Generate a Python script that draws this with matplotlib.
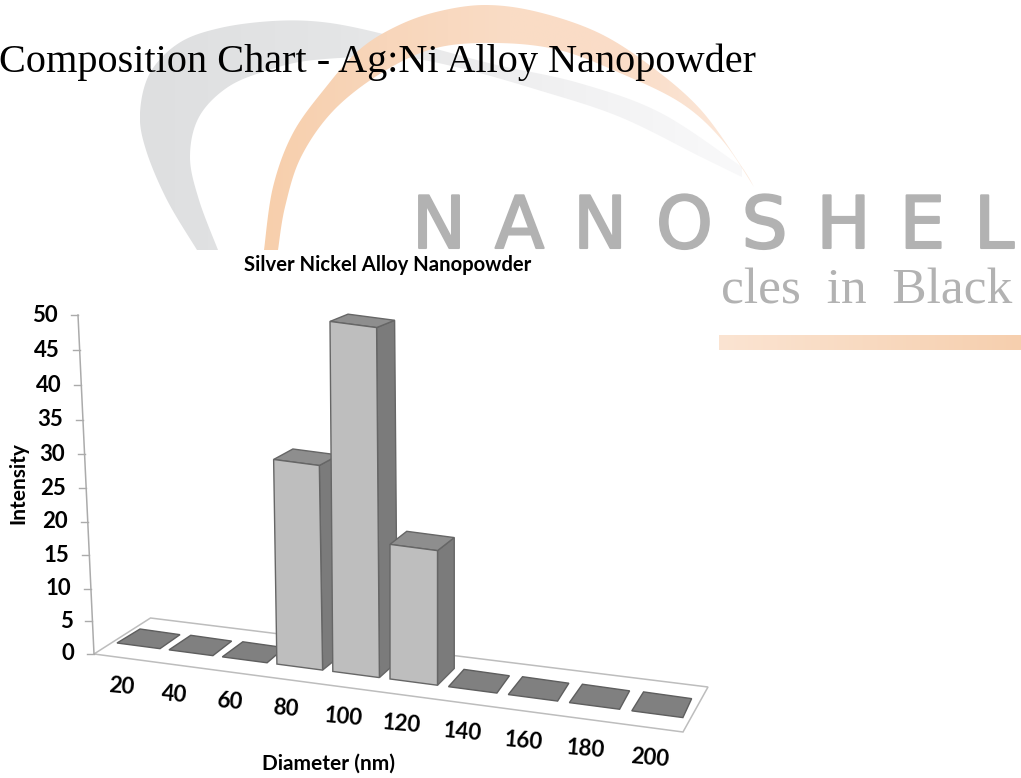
"""
Silver nickel alloy nanopowder: size distribution as a 3D-look bar chart
on top of the Nanoshel watermark. Drawn on one axes in image pixels.
"""
import numpy as np
import matplotlib
matplotlib.use("Agg")
import matplotlib.pyplot as plt
import matplotlib.patheffects as pe
from matplotlib.colors import LinearSegmentedColormap
from matplotlib.patches import Polygon

diameters = [20, 40, 60, 80, 100, 120, 140, 160, 180, 200]
intensity = [0, 0, 0, 30, 50, 20, 0, 0, 0, 0]
y_ticks = [0, 5, 10, 15, 20, 25, 30, 35, 40, 45, 50]

FRONT, SIDE, TOP, EDGE = "#BEBEBE", "#7B7B7B", "#8E8E8E", "#666666"
TILE, TILE_EDGE = "#808080", "#5E5E5E"
FLOOR_LINE, AXIS_LINE = "#BDBDBD", "#ABABAB"
WM_TEXT = "#B2B2B2"
SANS = "Lato"


# perspective of the fake 3D box, fitted to the picture
def base_point(i):
    x = 117 + 52 * i + 0.65 * i * (i - 1)
    return x, 643 + 0.1318 * (x - 117)


def bar_corners(i, value):
    x0, y0 = base_point(i)
    w = 43 + 0.9 * i
    slope = 0.1318
    h = value * (6.55 + 0.009 * value)
    lean = -(5 - i) * 0.008 * h
    dx = 23 - 1.25 * i
    dx_r = dx - 3 if value == 0 else dx
    dy = -(14 + 0.55 * i) * (1 - 0.011 * value)
    dy0 = -(14 + 0.55 * i)
    fl_b = (x0, y0)
    fr_b = (x0 + w, y0 + w * slope)
    fl_t = (x0 + lean, y0 - h)
    fr_t = (x0 + w + lean, y0 + w * slope - h)
    bl_t = (fl_t[0] + dx, fl_t[1] + dy)
    br_t = (fr_t[0] + dx_r, fr_t[1] + dy)
    br_b = (fr_b[0] + dx_r, fr_b[1] + dy0)
    return fl_b, fr_b, fl_t, fr_t, bl_t, br_t, br_b


def axis_point(value):
    y = 654 - value * (6.48 + 0.006 * value)
    return 94 - 16 * (654 - y) / 339, y


def smooth(points, n=14):
    # Catmull-Rom through the outline points
    p = np.array([points[0]] + list(points) + [points[-1]], dtype=float)
    out = []
    for k in range(1, len(p) - 2):
        for t in np.linspace(0, 1, n, endpoint=False):
            out.append(0.5 * (2 * p[k] + (p[k + 1] - p[k - 1]) * t
                              + (2 * p[k - 1] - 5 * p[k] + 4 * p[k + 1] - p[k + 2]) * t ** 2
                              + (3 * p[k] - p[k - 1] - 3 * p[k + 1] + p[k + 2]) * t ** 3))
    out.append(p[-1])
    return np.array(out)


def gradient_arc(ax, outer, inner, colors, z):
    shape = Polygon(np.vstack([smooth(outer), smooth(inner)]), closed=True, fc="none", ec="none")
    ax.add_patch(shape)
    xs = shape.get_xy()[:, 0]
    grad = np.linspace(0, 1, 256).reshape(1, -1)
    cmap = LinearSegmentedColormap.from_list("fade", colors)
    im = ax.imshow(grad, extent=[xs.min(), xs.max(), 250, 0], cmap=cmap, aspect="auto", zorder=z)
    im.set_clip_path(shape)


fig = plt.figure(figsize=(10.21, 7.78), dpi=100)
ax = fig.add_axes([0, 0, 1, 1])

# watermark arcs
grey_outer = [(197, 250), (167, 200), (146, 150), (140, 113), (150, 73), (179, 43), (220, 28),
              (273, 21), (322, 22), (375, 32), (440, 50), (497, 65), (579, 83), (661, 113), (742, 167)]
grey_inner = [(742, 177), (701, 157), (620, 117), (538, 90), (456, 67), (395, 57), (314, 60),
              (269, 70), (228, 87), (199, 117), (190, 157), (199, 200), (218, 250)]
gradient_arc(ax, grey_outer, grey_inner, ["#DEDFE0", "#E4E5E6", "#F0F0F1", "#F9F9FA"], 1)

org_outer = [(264, 250), (273, 187), (293, 133), (326, 87), (359, 50), (395, 27), (436, 12),
             (485, 5), (538, 12), (599, 33), (652, 67), (701, 110), (742, 167), (754, 187)]
org_inner = [(754, 187), (722, 140), (681, 103), (620, 73), (559, 50), (497, 43), (436, 48),
             (383, 72), (334, 110), (301, 157), (285, 207), (278, 250)]
gradient_arc(ax, org_outer, org_inner, ["#F7CFAC", "#F8D6BB", "#FADCC5", "#FADDC8", "#FCEADD"], 2)

band = np.linspace(0, 1, 256).reshape(1, -1)
cmap2 = LinearSegmentedColormap.from_list("band", ["#FBE4D2", "#F6CFAE"])
ax.imshow(band, extent=[719, 1021, 350, 335], cmap=cmap2, aspect="auto", zorder=2)
ax.set_xlim(0, 1021)
ax.set_ylim(778, 0)
ax.axis("off")

ax.text(412, 248, "\u2009\u2009".join("NANOSHEL"), family="DejaVu Sans", fontsize=52,
        color=WM_TEXT, ha="left", va="baseline", zorder=3,
        path_effects=[pe.withStroke(linewidth=1.5, foreground=WM_TEXT)])
ax.text(721, 303, "cles  in  Black", family="Liberation Serif", fontsize=37,
        color=WM_TEXT, ha="left", va="baseline", zorder=3)

ax.text(-1, 72, "Composition Chart - Ag:Ni Alloy Nanopowder", family="Liberation Serif",
        fontsize=29, color="black", ha="left", va="baseline", zorder=6)
ax.text(388, 265, "Silver Nickel Alloy Nanopowder", family=SANS, fontweight="bold",
        fontsize=14.6, color="black", ha="center", va="center", zorder=6)

# floor
fl0 = axis_point(0)
floor = [fl0, (150.5, 618), (708, 687), (683, 732)]
ax.add_patch(Polygon(floor, closed=True, fc="none", ec=FLOOR_LINE, lw=1.1, zorder=3))

# y axis
top = axis_point(max(y_ticks))
ax.plot([top[0], fl0[0]], [top[1], fl0[1]], color=AXIS_LINE, lw=1.1, zorder=3)
for v in y_ticks:
    x, y = axis_point(v)
    ax.plot([x - 7, x], [y, y], color=AXIS_LINE, lw=1.0, zorder=3)
    ax.text(x - 20, y, str(v), family=SANS, fontweight="bold", fontsize=16,
            ha="right", va="center", zorder=6)

# bars, left to right so each one covers the side of the previous one
for i, value in enumerate(intensity):
    fl_b, fr_b, fl_t, fr_t, bl_t, br_t, br_b = bar_corners(i, value)
    if value == 0:
        ax.add_patch(Polygon([fl_t, fr_t, br_t, bl_t], closed=True, fc=TILE, ec=TILE_EDGE,
                             lw=1.0, zorder=4))
        continue
    z = 4 + i * 0.01
    ax.add_patch(Polygon([fr_b, fr_t, br_t, br_b], closed=True, fc=SIDE, ec=EDGE, lw=1.0, zorder=z))
    ax.add_patch(Polygon([fl_t, fr_t, br_t, bl_t], closed=True, fc=TOP, ec=EDGE, lw=1.0, zorder=z))
    ax.add_patch(Polygon([fl_b, fr_b, fr_t, fl_t], closed=True, fc=FRONT, ec=EDGE, lw=1.0, zorder=z))

for i, d in enumerate(diameters):
    x0, y0 = base_point(i)
    ax.text(x0 + 4 + 1.55 * i, y0 + 44 + 0.33 * i, str(d), family=SANS, fontweight="bold",
            fontsize=16, rotation=-5, ha="center", va="center", zorder=6)

ax.text(328, 764, "Diameter (nm)", family=SANS, fontweight="bold", fontsize=15,
        ha="center", va="center", zorder=6)
ax.text(18, 483, "Intensity", family=SANS, fontweight="bold", fontsize=15, rotation=90,
        ha="center", va="center", zorder=6)

fig.savefig("out.png", dpi=100)
